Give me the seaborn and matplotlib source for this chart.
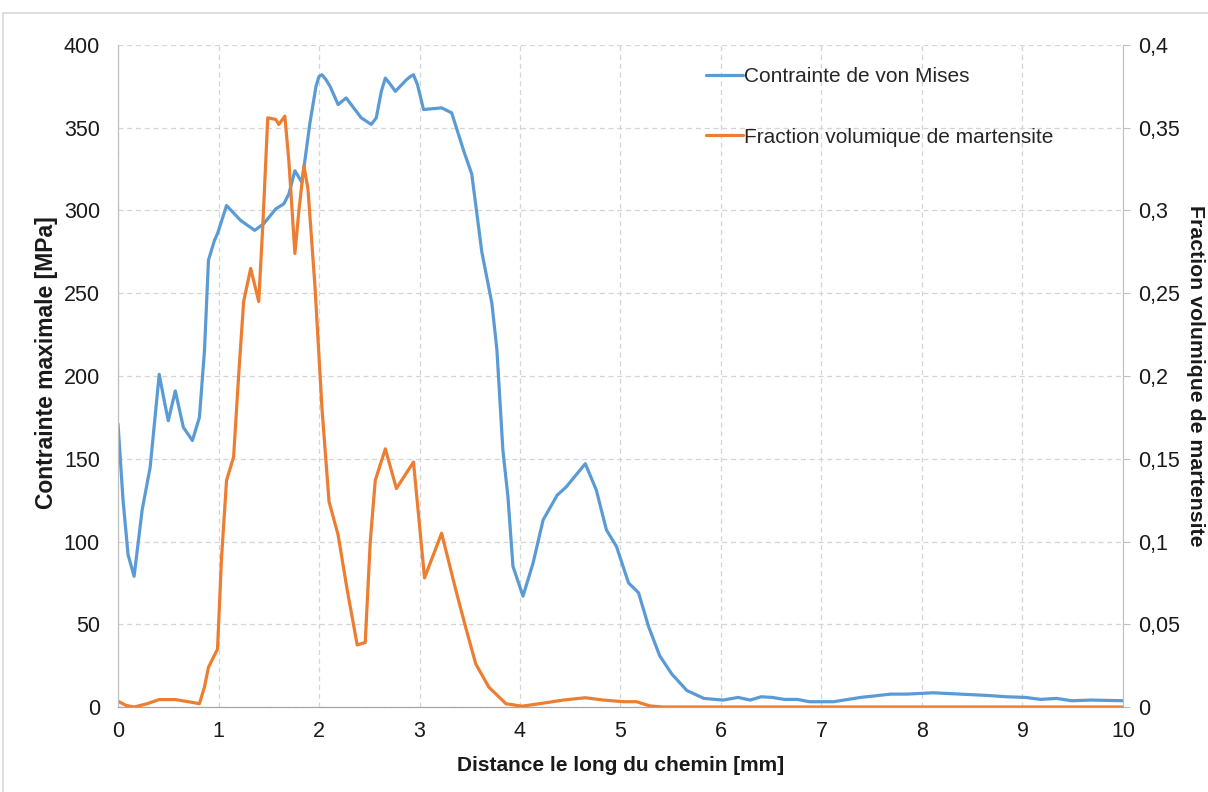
import matplotlib
matplotlib.use("Agg")
import matplotlib.pyplot as plt
import seaborn as sns
from matplotlib.patches import Rectangle

# --- DATA ---
mises_x = [0.00, 0.05, 0.10, 0.16, 0.24, 0.32, 0.41, 0.46, 0.50, 0.57, 0.65, 0.74, 0.81,
           0.86, 0.90, 0.96, 0.99, 1.08, 1.22, 1.36, 1.45, 1.57, 1.65, 1.70, 1.76, 1.83,
           1.91, 1.97, 2.00, 2.03, 2.07, 2.11, 2.19, 2.27, 2.42, 2.52, 2.57, 2.62, 2.66,
           2.70, 2.76, 2.87, 2.91, 2.94, 2.98, 3.04, 3.22, 3.32, 3.44, 3.52, 3.62, 3.72,
           3.77, 3.83, 3.88, 3.93, 4.03, 4.13, 4.23, 4.37, 4.46, 4.65, 4.76, 4.86, 4.96,
           5.08, 5.18, 5.28, 5.39, 5.51, 5.66, 5.83, 6.02, 6.17, 6.29, 6.40, 6.51, 6.63,
           6.76, 6.88, 7.12, 7.39, 7.69, 7.85, 8.11, 8.38, 8.65, 8.84, 9.03, 9.18, 9.34,
           9.49, 9.68, 10.00]
mises_mpa = [171, 125, 92, 79, 119, 145, 201, 185, 173, 191, 169, 161, 175,
             215, 270, 282, 286, 303, 294, 288, 292, 301, 304, 310, 324, 317,
             353, 375, 381, 382, 379, 375, 364, 368, 356, 352, 356, 372, 380,
             377, 372, 379, 381, 382, 376, 361, 362, 359, 336, 322, 275, 244,
             216, 155, 127, 85, 67, 87, 113, 128, 133, 147, 131, 107, 97,
             75, 69, 48.5, 31, 20, 10, 5.2, 4.2, 5.8, 4.2, 6.2, 5.8, 4.6,
             4.6, 3.2, 3.2, 5.8, 7.8, 7.8, 8.6, 7.8, 7.0, 6.2, 5.8, 4.6, 5.2,
             3.8, 4.2, 3.8]

mart_x = [0.00, 0.08, 0.16, 0.29, 0.41, 0.57, 0.72, 0.81, 0.86, 0.90, 0.99, 1.03, 1.08,
          1.15, 1.20, 1.25, 1.32, 1.40, 1.44, 1.49, 1.57, 1.60, 1.66, 1.70, 1.76, 1.80,
          1.85, 1.89, 1.96, 2.03, 2.10, 2.19, 2.28, 2.38, 2.46, 2.51, 2.56, 2.66, 2.77,
          2.94, 3.05, 3.22, 3.36, 3.46, 3.56, 3.69, 3.86, 4.02, 4.26, 4.43, 4.65, 4.83,
          5.03, 5.16, 5.29, 5.42, 10.00]
mart_frac = [0.0035, 0.001, 0.0, 0.002, 0.0045, 0.0045, 0.003, 0.002, 0.012, 0.024, 0.035, 0.090, 0.137,
             0.151, 0.200, 0.245, 0.265, 0.245, 0.290, 0.356, 0.355, 0.352, 0.357, 0.330, 0.274, 0.300,
             0.327, 0.313, 0.254, 0.180, 0.124, 0.104, 0.071, 0.0375, 0.039, 0.100, 0.137, 0.156, 0.132,
             0.148, 0.078, 0.105, 0.071, 0.048, 0.026, 0.012, 0.002, 0.0005, 0.0026, 0.0042, 0.0056, 0.0042,
             0.0032, 0.0032, 0.0007, 0.0, 0.0]

x_ticks = list(range(0, 11))
left_ticks = list(range(0, 401, 50))
right_ticks = [0, 0.05, 0.1, 0.15, 0.2, 0.25, 0.3, 0.35, 0.4]
right_labels = ["0", "0,05", "0,1", "0,15", "0,2", "0,25", "0,3", "0,35", "0,4"]

# --- STYLE ---
sns.set_style("white")
plt.rcParams['font.family'] = ['Liberation Sans', 'DejaVu Sans']
BLUE = '#5b9bd5'
ORANGE = '#ed7d31'
GRID = '#d4d4d4'
TXT = '#1a1a1a'

fig = plt.figure(figsize=(12.08, 7.92), dpi=100)
ax = fig.add_axes([0.0977, 0.1073, 0.8319, 0.8359])
ax2 = ax.twinx()

sns.lineplot(x=mises_x, y=mises_mpa, ax=ax, color=BLUE, linewidth=2.3, sort=False,
             label='Contrainte de von Mises')
sns.lineplot(x=mart_x, y=mart_frac, ax=ax2, color=ORANGE, linewidth=2.3, sort=False,
             label='Fraction volumique de martensite')
for a in (ax, ax2):
    if a.get_legend() is not None:
        a.get_legend().remove()

ax.set_xlim(0, 10)
ax.set_ylim(0, 400)
ax2.set_ylim(0, 0.4)
ax.set_xticks(x_ticks)
ax.set_yticks(left_ticks)
ax2.set_yticks(right_ticks)
ax2.set_yticklabels(right_labels)

ax.grid(True, color=GRID, linestyle=(0, (4, 3)), linewidth=0.9)
ax.set_axisbelow(True)

for a in (ax, ax2):
    a.spines['top'].set_visible(False)
    a.spines['left'].set_color('#bfbfbf')
    a.spines['bottom'].set_color('#a6a6a6')
    a.spines['right'].set_color('#bfbfbf')
ax.spines['right'].set_visible(False)

ax.tick_params(axis='y', labelsize=15.5, colors=TXT, length=0, pad=13)
ax.tick_params(axis='x', labelsize=15.5, colors=TXT, length=0, pad=10)
ax2.tick_params(axis='y', labelsize=15.5, colors=TXT, length=5, color='#bfbfbf', pad=6)

ax.set_xlabel('Distance le long du chemin [mm]', fontsize=15, fontweight='bold', color=TXT, labelpad=10)
ax.set_ylabel('Contrainte maximale [MPa]', fontsize=16.5, fontweight='bold', color=TXT)
ax.yaxis.set_label_coords(-0.0597, 0.52)
ax2.set_ylabel('Fraction volumique de martensite', fontsize=15.3, fontweight='bold', color=TXT,
               rotation=270, labelpad=18)

h1, l1 = ax.get_legend_handles_labels()
h2, l2 = ax2.get_legend_handles_labels()
ax2.legend(h1 + h2, l1 + l2, loc='upper left', bbox_to_anchor=(0.566, 0.995), frameon=False,
           fontsize=15, handlelength=1.8, handletextpad=0.05, labelspacing=2.0)

# light chart-area border like the spreadsheet export
fig.patches.append(Rectangle((0.0025, -0.05), 1.2, 0.05 + (1 - 13 / 792), transform=fig.transFigure,
                             fill=False, edgecolor='#d9d9d9', linewidth=1.2))

fig.savefig('out.png', dpi=100)
